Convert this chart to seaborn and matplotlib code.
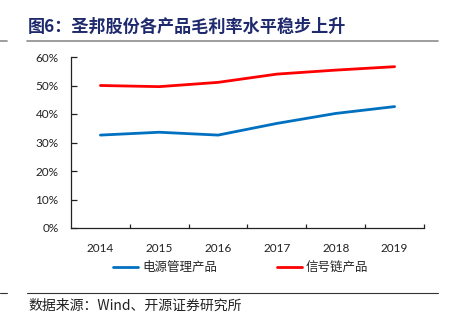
import matplotlib
matplotlib.use("Agg")
import matplotlib.pyplot as plt
import seaborn as sns
import pandas as pd
from matplotlib.lines import Line2D
from matplotlib.ticker import FuncFormatter, FixedLocator

years = ["2014", "2015", "2016", "2017", "2018", "2019"]
power_mgmt = [0.326, 0.336, 0.326, 0.367, 0.402, 0.426]
signal_chain = [0.500, 0.496, 0.511, 0.540, 0.554, 0.566]
series_names = ["电源管理产品", "信号链产品"]
title_text = "图6：圣邦股份各产品毛利率水平稳步上升"
source_text = "数据来源：Wind、开源证券研究所"
yticks = [0, 0.1, 0.2, 0.3, 0.4, 0.5, 0.6]

sns.set_theme(style="white")
plt.rcParams["font.family"] = ["Lato", "Noto Sans CJK SC", "DejaVu Sans"]

df = pd.DataFrame({
    "year": list(range(len(years))) * 2,
    "value": power_mgmt + signal_chain,
    "series": [series_names[0]] * len(years) + [series_names[1]] * len(years),
})

fig = plt.figure(figsize=(4.52, 3.25), dpi=100)
ax = fig.add_axes([71 / 452, 1 - 228 / 325, (424 - 71) / 452, (228 - 57) / 325])
sns.lineplot(data=df, x="year", y="value", hue="series",
             palette=["#0070C0", "#FF0000"], linewidth=2.0, ax=ax, legend=False)

ax.set_xlim(-0.5, len(years) - 0.5)
ax.set_ylim(0, 0.6)
ax.set_xticks(range(len(years)))
ax.set_xticklabels(years)
ax.xaxis.set_minor_locator(FixedLocator([i + 0.5 for i in range(len(years))]))
ax.set_yticks(yticks)
ax.yaxis.set_major_formatter(FuncFormatter(lambda v, p: f"{v*100:.0f}%"))
ax.set_xlabel("")
ax.set_ylabel("")
for s in ["top", "right"]:
    ax.spines[s].set_visible(False)
for s in ["left", "bottom"]:
    ax.spines[s].set_color("#222222")
    ax.spines[s].set_linewidth(0.9)
ax.tick_params(axis="x", which="major", length=0, pad=11, labelsize=8.5, colors="#222222")
ax.tick_params(axis="x", which="minor", direction="in", length=3, width=0.9, color="#222222", bottom=True)
ax.tick_params(axis="y", direction="in", length=4, width=0.9, color="#222222", pad=9,
               labelsize=8.5, labelcolor="#222222", left=True)
ax.grid(False)

handles = [Line2D([], [], color="#0070C0", lw=2.0), Line2D([], [], color="#FF0000", lw=2.0)]
fig.legend(handles, series_names, loc="center", bbox_to_anchor=(241 / 452, 1 - 268 / 325),
           ncol=2, frameon=False, handlelength=2.0, handletextpad=0.3, columnspacing=4.8,
           prop={"family": ["Noto Sans CJK SC"], "size": 9})

fig.text(28 / 452, 1 - 27 / 325, title_text, ha="left", va="center", fontsize=12.3,
         fontweight="bold", color="#1F2A6E", family=["Noto Sans CJK SC"])
fig.text(28 / 452, 1 - 306 / 325, source_text, ha="left", va="center", fontsize=10,
         color="#222222", family=["Noto Sans CJK SC"])

fig.add_artist(Line2D([27 / 452, 438 / 452], [1 - 41 / 325] * 2, color="#8C8C8C", lw=1.2))
fig.add_artist(Line2D([0, 7 / 452], [1 - 41 / 325] * 2, color="#8C8C8C", lw=1.2))
fig.add_artist(Line2D([27 / 452, 438 / 452], [1 - 293 / 325] * 2, color="#333333", lw=0.8))
fig.add_artist(Line2D([0, 7 / 452], [1 - 293 / 325] * 2, color="#333333", lw=0.8))

fig.savefig("out.png", dpi=100)
